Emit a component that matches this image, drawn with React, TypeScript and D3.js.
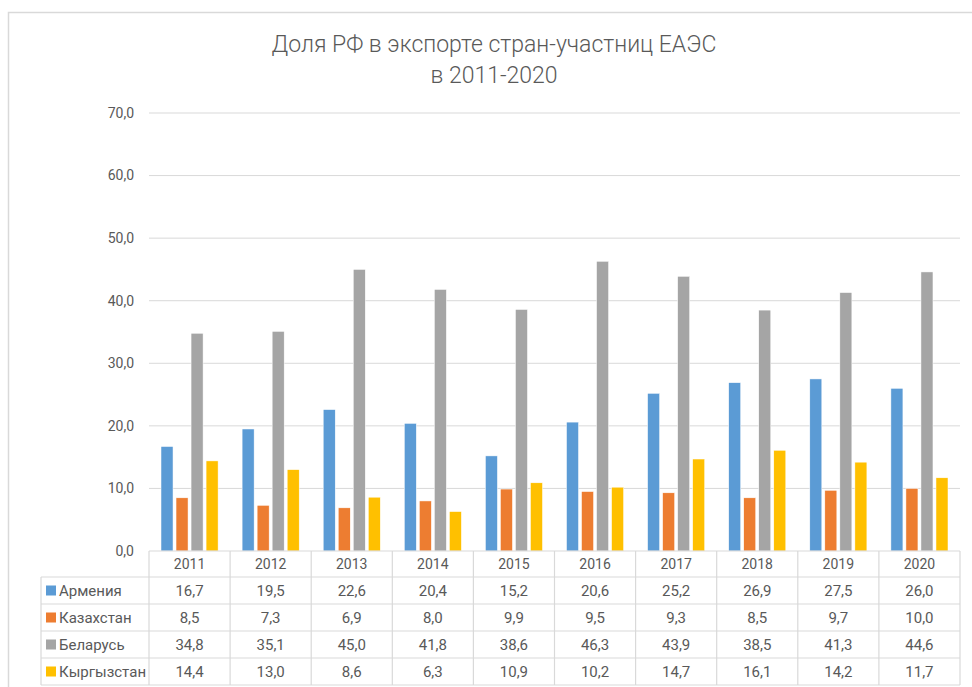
import React from "react";
import * as d3 from "d3";

const years = ["2011", "2012", "2013", "2014", "2015", "2016", "2017", "2018", "2019", "2020"];
const seriesNames = ["Армения", "Казахстан", "Беларусь", "Кыргызстан"];
const armenia = [16.7, 19.5, 22.6, 20.4, 15.2, 20.6, 25.2, 26.9, 27.5, 26.0];
const kazakhstan = [8.5, 7.3, 6.9, 8.0, 9.9, 9.5, 9.3, 8.5, 9.7, 10.0];
const belarus = [34.8, 35.1, 45.0, 41.8, 38.6, 46.3, 43.9, 38.5, 41.3, 44.6];
const kyrgyzstan = [14.4, 13.0, 8.6, 6.3, 10.9, 10.2, 14.7, 16.1, 14.2, 11.7];
const yTicks = [0, 10, 20, 30, 40, 50, 60, 70];
const colors = ["#5B9BD5", "#ED7D31", "#A5A5A5", "#FFC000"];
const titleLines = ["Доля РФ в экспорте стран-участниц ЕАЭС", "в 2011-2020"];

const seriesValues = [armenia, kazakhstan, belarus, kyrgyzstan];

const W = 972;
const H = 687;
const plotLeft = 149;
const plotRight = 960;
const plotTop = 113;
const plotBottom = 551;
const tableLeft = 41;
const headerH = 26;
const rowH = 27;
const font = "Roboto, 'Noto Sans', sans-serif";
const textColor = "#595959";
const gridColor = "#D9D9D9";

const fmt = (v: number) => v.toFixed(1).replace(".", ",");

export default function App() {
  const x = d3.scaleBand<string>().domain(years).range([plotLeft, plotRight]).paddingInner(0).paddingOuter(0);
  const y = d3.scaleLinear().domain([0, 70]).range([plotBottom, plotTop]);
  const bw = x.bandwidth();
  const inner = d3
    .scaleBand<string>()
    .domain(seriesNames)
    .range([bw * 0.148, bw * 0.852])
    .paddingInner(0.2);

  const rowTops = seriesNames.map((_, i) => plotBottom + headerH + i * rowH);
  const tableBottom = plotBottom + headerH + seriesNames.length * rowH;

  return (
    <div style={{ position: "absolute", left: 0, top: 0 }}>
      <svg width={W} height={H} style={{ display: "block", background: "#fff" }}>
        <rect x={8.5} y={12.5} width={980} height={700} fill="#fff" stroke={gridColor} strokeWidth={1.5} />
        {titleLines.map((t, i) => (
          <text
            key={i}
            x={494}
            y={52 + i * 31}
            textAnchor="middle"
            fontFamily={font}
            fontWeight={300}
            fontSize={23}
            fill={textColor}
          >
            {t}
          </text>
        ))}
        {yTicks.map((t) => (
          <g key={t}>
            {t > 0 && (
              <line x1={plotLeft} x2={plotRight} y1={y(t)} y2={y(t)} stroke={gridColor} strokeWidth={1} />
            )}
            <text
              x={134}
              y={y(t)}
              dy="0.35em"
              textAnchor="end"
              fontFamily={font}
              fontSize={14}
              fill={textColor}
            >
              {fmt(t)}
            </text>
          </g>
        ))}
        {seriesNames.map((s, si) =>
          years.map((yr, yi) => {
            const v = seriesValues[si][yi];
            return (
              <rect
                key={s + yr}
                x={(x(yr) as number) + (inner(s) as number)}
                y={y(v)}
                width={inner.bandwidth()}
                height={plotBottom - y(v)}
                fill={colors[si]}
                stroke="#fff"
                strokeWidth={0.5}
              />
            );
          })
        )}
        {/* data table */}
        <g stroke={gridColor} strokeWidth={1.2} fill="none">
          <line x1={plotLeft} x2={plotRight} y1={plotBottom} y2={plotBottom} />
          {rowTops.map((rt, i) => (
            <line key={i} x1={tableLeft} x2={plotRight} y1={rt} y2={rt} />
          ))}
          <line x1={tableLeft} x2={plotRight} y1={tableBottom} y2={tableBottom} />
          <line x1={tableLeft} x2={tableLeft} y1={rowTops[0]} y2={tableBottom} />
          {years.map((yr) => (
            <line key={yr} x1={x(yr) as number} x2={x(yr) as number} y1={plotBottom} y2={tableBottom} />
          ))}
          <line x1={plotRight} x2={plotRight} y1={plotBottom} y2={tableBottom} />
        </g>
        {years.map((yr) => (
          <text
            key={yr}
            x={(x(yr) as number) + bw / 2}
            y={plotBottom + headerH / 2}
            dy="0.35em"
            textAnchor="middle"
            fontFamily={font}
            fontSize={14}
            fill={textColor}
          >
            {yr}
          </text>
        ))}
        {seriesNames.map((s, si) => (
          <g key={s}>
            <rect x={46} y={rowTops[si] + rowH / 2 - 5} width={10} height={10} fill={colors[si]} />
            <text
              x={59}
              y={rowTops[si] + rowH / 2}
              dy="0.35em"
              fontFamily={font}
              fontSize={15}
              fill={textColor}
            >
              {s}
            </text>
            {years.map((yr, yi) => (
              <text
                key={yr}
                x={(x(yr) as number) + bw / 2}
                y={rowTops[si] + rowH / 2}
                dy="0.35em"
                textAnchor="middle"
                fontFamily={font}
                fontSize={15}
                fill={textColor}
              >
                {fmt(seriesValues[si][yi])}
              </text>
            ))}
          </g>
        ))}
      </svg>
    </div>
  );
}
